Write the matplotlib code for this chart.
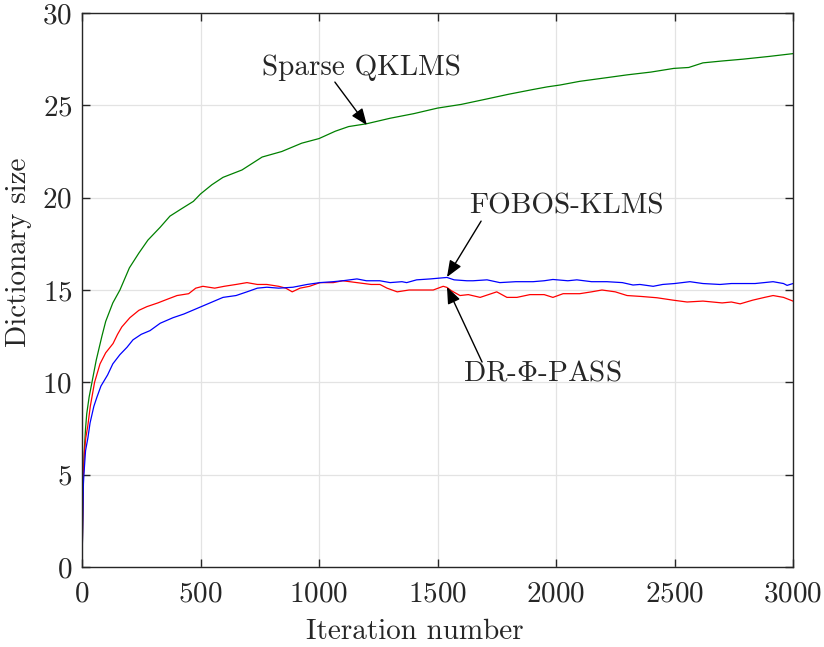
import matplotlib
matplotlib.use("Agg")
import matplotlib.pyplot as plt

plt.rcParams["font.family"] = "cmr10"
plt.rcParams["mathtext.fontset"] = "cm"
plt.rcParams["axes.formatter.use_mathtext"] = True

# Dictionary size versus iteration for the three algorithms
qklms_iter = [0, 3, 6, 10, 15, 20, 30, 42, 60, 84, 100, 130, 160, 200, 240, 278,
              330, 371, 420, 470, 500, 548, 595, 675, 760, 843, 927, 1000, 1069,
              1125, 1200, 1300, 1400, 1500, 1600, 1710, 1800, 1900, 1963, 2017,
              2100, 2215, 2300, 2400, 2497, 2560, 2620, 2700, 2789, 2900, 3000]
qklms_size = [0, 2.5, 5.0, 6.4, 7.5, 8.3, 9.2, 10.0, 11.2, 12.5, 13.3, 14.3, 15.0,
              16.2, 17.0, 17.7, 18.4, 19.0, 19.4, 19.8, 20.2, 20.7, 21.1, 21.5,
              22.2, 22.5, 22.95, 23.2, 23.6, 23.85, 24.0, 24.3, 24.55, 24.85,
              25.05, 25.35, 25.6, 25.85, 26.0, 26.1, 26.3, 26.5, 26.65, 26.8,
              27.0, 27.05, 27.3, 27.4, 27.5, 27.65, 27.8]

fobos_iter = [0, 3, 6, 8, 15, 25, 34, 50, 63, 80, 108, 130, 160, 190, 215, 250,
              287, 330, 384, 430, 485, 540, 595, 650, 696, 740, 780, 830, 890,
              950, 1004, 1060, 1100, 1160, 1200, 1257, 1300, 1350, 1370, 1412,
              1470, 1540, 1570, 1624, 1650, 1709, 1763, 1830, 1903, 1950, 1987,
              2050, 2088, 2150, 2215, 2280, 2325, 2354, 2410, 2450, 2500, 2565,
              2620, 2692, 2740, 2777, 2840, 2916, 2960, 2975, 3000]
fobos_size = [0, 2.3, 4.5, 5.0, 6.3, 7.0, 7.8, 8.7, 9.2, 9.8, 10.4, 11.0, 11.5,
              11.9, 12.3, 12.6, 12.8, 13.2, 13.5, 13.7, 14.0, 14.3, 14.6, 14.7,
              14.9, 15.1, 15.15, 15.1, 15.15, 15.3, 15.4, 15.45, 15.5, 15.6, 15.5,
              15.5, 15.4, 15.45, 15.4, 15.55, 15.6, 15.68, 15.55, 15.5, 15.5,
              15.55, 15.4, 15.45, 15.45, 15.5, 15.57, 15.5, 15.55, 15.45, 15.45,
              15.4, 15.27, 15.3, 15.2, 15.3, 15.35, 15.45, 15.35, 15.3, 15.35,
              15.35, 15.35, 15.45, 15.35, 15.25, 15.35]

pass_iter = [0, 3, 6, 10, 16, 24, 35, 53, 76, 100, 131, 150, 168, 202, 240, 274,
             320, 360, 401, 450, 480, 510, 560, 600, 650, 696, 740, 780, 830, 860,
             887, 920, 960, 1004, 1060, 1100, 1160, 1220, 1257, 1287, 1330, 1380,
             1430, 1482, 1524, 1540, 1560, 1595, 1630, 1680, 1750, 1793, 1835,
             1890, 1950, 1987, 2030, 2100, 2150, 2194, 2250, 2300, 2360, 2426,
             2494, 2553, 2620, 2701, 2740, 2777, 2830, 2880, 2916, 2960, 3000]
pass_size = [0, 2.5, 5.0, 6.2, 7.0, 7.6, 8.7, 10.0, 11.0, 11.6, 12.1, 12.6, 13.0,
             13.5, 13.9, 14.1, 14.3, 14.5, 14.7, 14.8, 15.1, 15.2, 15.1, 15.2,
             15.3, 15.4, 15.3, 15.3, 15.2, 15.1, 14.9, 15.1, 15.2, 15.4, 15.4,
             15.5, 15.4, 15.3, 15.3, 15.1, 14.9, 15.0, 15.0, 15.0, 15.2, 15.14,
             14.95, 14.7, 14.75, 14.6, 14.9, 14.6, 14.6, 14.75, 14.75, 14.6, 14.8,
             14.8, 14.9, 15.0, 14.9, 14.7, 14.65, 14.58, 14.45, 14.35, 14.4, 14.3,
             14.35, 14.25, 14.45, 14.6, 14.7, 14.6, 14.4]

x_ticks = [0, 500, 1000, 1500, 2000, 2500, 3000]
y_ticks = [0, 5, 10, 15, 20, 25, 30]

text_col = "#262626"
fs = 21
fig = plt.figure(figsize=(8.24, 6.47), dpi=100)
ax = fig.add_axes([82 / 824, 80 / 647, 711 / 824, 554 / 647])

ax.plot(qklms_iter, qklms_size, color="#008000", lw=0.9)
ax.plot(pass_iter, pass_size, color="#ff0000", lw=0.9)
ax.plot(fobos_iter, fobos_size, color="#0000ff", lw=0.9)

ax.set_xlim(0, 3000)
ax.set_ylim(0, 30)
ax.set_xticks(x_ticks)
ax.set_yticks(y_ticks)
ax.grid(True, color="#e3e3e3", lw=0.9)
ax.set_axisbelow(True)
for s in ax.spines.values():
    s.set_color(text_col)
    s.set_linewidth(1.0)
ax.tick_params(direction="in", length=6, width=1.0, colors=text_col,
               labelsize=fs, top=True, right=True)
ax.tick_params(axis="x", pad=10)
ax.tick_params(axis="y", pad=7)

ax.set_xlabel("Iteration number", fontsize=fs, color=text_col)
ax.set_ylabel("Dictionary size", fontsize=fs, color=text_col)
ax.xaxis.set_label_coords(0.468, -0.094)
ax.yaxis.set_label_coords(-0.070, 0.569)

arrow = dict(arrowstyle="-|>,head_length=0.5,head_width=0.2",
             color="black", lw=1.0, mutation_scale=20, shrinkA=0, shrinkB=0)

ax.text(1181, 27.03, "Sparse QKLMS", fontsize=fs, color=text_col,
        ha="center", va="center")
ax.annotate("", xy=(1202, 23.93), xytext=(1067, 26.26), arrowprops=arrow)

ax.text(2042, 19.55, "FOBOS-KLMS", fontsize=fs, color=text_col,
        ha="center", va="center")
ax.annotate("", xy=(1540, 15.70), xytext=(1684, 18.73), arrowprops=arrow)

ax.text(1941, 10.5, r"DR-$\Phi$-PASS", fontsize=fs, color=text_col,
        ha="center", va="center")
ax.annotate("", xy=(1540, 15.16), xytext=(1688, 11.1), arrowprops=arrow)

fig.savefig("out.png", dpi=100)
